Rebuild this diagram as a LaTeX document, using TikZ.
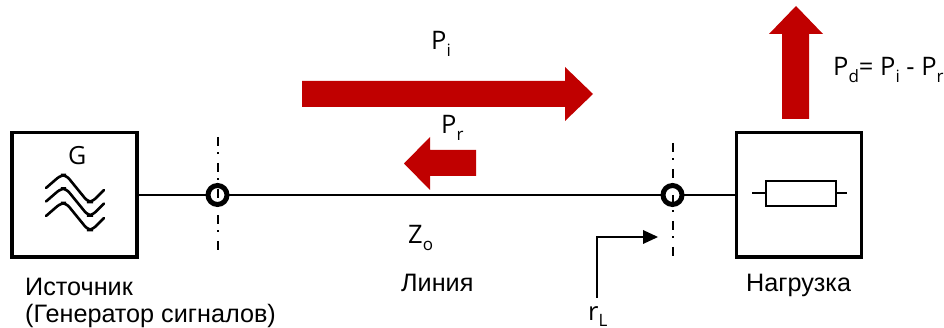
\documentclass[tikz,border=0pt]{standalone}
\usepackage{fontspec}
\setmainfont{Liberation Sans}
\newfontfamily\labelfont{Open Sans}
\definecolor{powerred}{HTML}{C00000}
\newcommand{\subtxt}[1]{\raisebox{-0.26em}{\fontsize{17}{17}\selectfont\smash{#1}}}
\tikzset{
  block/.style={draw=black,line width=3.6pt,minimum width=125pt,minimum height=124.5pt,inner sep=0pt,outer sep=0pt,fill=white},
  junction/.style={circle,draw=black,line width=5pt,minimum size=19pt,inner sep=0pt,outer sep=0pt},
  wire/.style={draw=black,line width=2.3pt},
  cut/.style={draw=black,line width=2pt,dash pattern=on 9pt off 6.5pt on 2pt off 8.5pt},
  powerarrow/.style={fill=powerred,draw=none},
  thin wire/.style={draw=black,line width=2pt},
  ru/.style={font=\fontsize{25.2}{25.2}\selectfont,inner sep=0pt,anchor=base west},
  sym/.style={font=\labelfont\fontsize{25.5}{25.5}\selectfont,inner sep=0pt,anchor=base west},
  wave/.style={draw=black,line width=2.6pt,line cap=round,rounded corners=5pt}
}
\begin{document}
\begin{tikzpicture}[x=1pt,y=-1pt]
\useasboundingbox (0,0) rectangle (944,328);
% blocks
\node[block] (src) at (74.5,194.7) {};
\node[block] (load) at (799,194.7) {};
% junctions
\node[junction] (j1) at (217.5,195) {};
\node[junction] (j2) at (672.5,195) {};
\draw[wire] (src.east |- j1) -- (j1);
\draw[wire] (j1) -- (j2);
\draw[wire] (j2) -- (load.west |- j2);
% reference planes
\coordinate (c1a) at (217.5,137); \coordinate (c1b) at (217.5,251);
\coordinate (c2a) at (673,143); \coordinate (c2b) at (673,257);
\draw[cut] (c1a) -- (c1b);
\draw[cut] (c2a) -- (c2b);
% waves
\foreach \o in {0,13.5,28}{
  \draw[wave] (46,{188+\o}) -- (61,{175+\o}) -- (66,{175+\o}) -- (88,{202+\o}) -- (92,{202+\o}) -- (104,{190+\o});
}
% resistor
\node[draw=black,line width=2pt,minimum width=70pt,minimum height=25pt,inner sep=0pt,outer sep=0pt] (res) at (801,193.5) {};
\coordinate (la) at (752,193.5); \coordinate (lb) at (847,193.5);
\draw[thin wire] (la) -- (res.west);
\draw[thin wire] (res.east) -- (lb);
% red arrows
\path[powerarrow] (302,81) -- (565,81) -- (565,67) -- (593,94) -- (565,121) -- (565,107) -- (302,107) -- cycle;
\path[powerarrow] (476,150) -- (430,150) -- (430,137) -- (404,163.5) -- (430,190) -- (430,176) -- (476,176) -- cycle;
\path[powerarrow] (782,119) -- (782,34) -- (769,34) -- (796,6) -- (823,34) -- (809,34) -- (809,119) -- cycle;
% r_L arrow
\coordinate (rs) at (597,298);
\coordinate (rc) at (597,237);
\coordinate (re) at (644,237);
\draw[thin wire] (rs) -- (rc) -- (re);
\path[fill=black] (643,230) -- (658,237) -- (643,244) -- cycle;
% labels
\node[sym,font=\labelfont\fontsize{25}{25}\selectfont] (g) at (68,165) {G};
\node[sym] (pi) at (431,50) {P\subtxt{i}};
\node[sym] (pr) at (441,134) {P\subtxt{r}};
\node[sym] (zo) at (408,244) {Z\subtxt{o}};
\node[sym] (rl) at (588,320) {r\subtxt{L}};
\node[sym] (pd) at (833,76) {P\subtxt{d}= P\subtxt{i} - P\subtxt{r}};
\node[ru] (t1) at (25,295) {Источник};
\node[ru] (t2) at (25,322) {(Генератор сигналов)};
\node[ru] (t3) at (401,291) {Линия};
\node[ru] (t4) at (746,291) {Нагрузка};
\end{tikzpicture}
\end{document}
